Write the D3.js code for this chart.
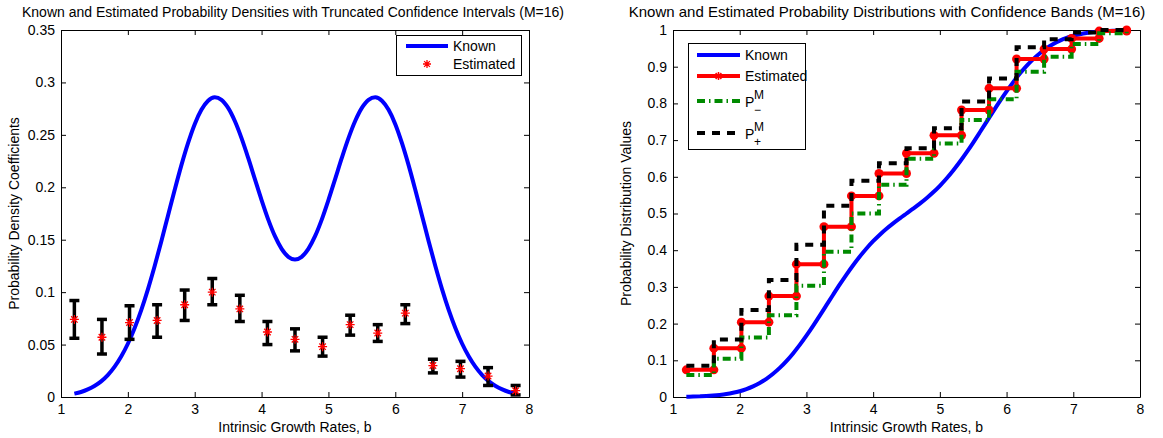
<!DOCTYPE html>
<html>
<head>
<meta charset="utf-8">
<script src="https://d3js.org/d3.v7.min.js"></script>
<style>
  body { margin: 0; background: #fff; }
  text { font-family: "Liberation Sans", Arial, sans-serif; }
</style>
</head>
<body>
<svg id="fig"></svg>
<script>
// known curves, every 0.1 from 1.2 to 7.8
const rates = [1.2, 1.3, 1.4, 1.5, 1.6, 1.7, 1.8, 1.9, 2.0, 2.1, 2.2, 2.3, 2.4, 2.5, 2.6, 2.7, 2.8, 2.9, 3.0, 3.1,
  3.2, 3.3, 3.4, 3.5, 3.6, 3.7, 3.8, 3.9, 4.0, 4.1, 4.2, 4.3, 4.4, 4.5, 4.6, 4.7, 4.8, 4.9, 5.0, 5.1,
  5.2, 5.3, 5.4, 5.5, 5.6, 5.7, 5.8, 5.9, 6.0, 6.1, 6.2, 6.3, 6.4, 6.5, 6.6, 6.7, 6.8, 6.9, 7.0, 7.1,
  7.2, 7.3, 7.4, 7.5, 7.6, 7.7, 7.8];
const knownDensity = [0.0032, 0.0048, 0.0072, 0.0105, 0.0149, 0.0209, 0.0287, 0.0386, 0.0508, 0.0656,
  0.0829, 0.1027, 0.1247, 0.1483, 0.1729, 0.1974, 0.2209, 0.2421, 0.2602, 0.2739, 0.2826, 0.2858,
  0.2834, 0.2757, 0.2632, 0.2469, 0.2280, 0.2078, 0.1878, 0.1692, 0.1534, 0.1413, 0.1337, 0.1312,
  0.1337, 0.1413, 0.1534, 0.1692, 0.1878, 0.2078, 0.2280, 0.2469, 0.2632, 0.2757, 0.2834, 0.2858,
  0.2826, 0.2739, 0.2602, 0.2421, 0.2209, 0.1974, 0.1729, 0.1483, 0.1247, 0.1027, 0.0829, 0.0656,
  0.0508, 0.0386, 0.0287, 0.0209, 0.0149, 0.0105, 0.0072, 0.0048, 0.0032];
const knownDistribution = [0.0007, 0.0011, 0.0017, 0.0025, 0.0038, 0.0056, 0.0080, 0.0114, 0.0158, 0.0216,
  0.0290, 0.0383, 0.0496, 0.0633, 0.0793, 0.0978, 0.1188, 0.1420, 0.1671, 0.1938, 0.2216, 0.2502,
  0.2787, 0.3067, 0.3336, 0.3591, 0.3828, 0.4047, 0.4245, 0.4423, 0.4584, 0.4731, 0.4868, 0.5000,
  0.5132, 0.5269, 0.5416, 0.5577, 0.5755, 0.5953, 0.6172, 0.6409, 0.6664, 0.6933, 0.7213, 0.7498,
  0.7784, 0.8062, 0.8329, 0.8580, 0.8812, 0.9022, 0.9207, 0.9367, 0.9504, 0.9617, 0.9710, 0.9784,
  0.9842, 0.9886, 0.9920, 0.9944, 0.9962, 0.9975, 0.9983, 0.9989, 0.9993];

// M=16 nodes
const nodes = [1.2, 1.6125, 2.025, 2.4375, 2.85, 3.2625, 3.675, 4.0875, 4.5, 4.9125, 5.325, 5.7375,
  6.15, 6.5625, 6.975, 7.3875, 7.8];
const estDensity = [0.074, 0.057, 0.071, 0.073, 0.088, 0.100, 0.084, 0.062, 0.055, 0.048, 0.069, 0.061,
  0.080, 0.030, 0.027, 0.020, 0.006];
const ciLower = [0.056, 0.041, 0.055, 0.057, 0.073, 0.088, 0.072, 0.050, 0.044, 0.039, 0.059, 0.053,
  0.070, 0.023, 0.019, 0.011, 0.002];
const ciUpper = [0.092, 0.074, 0.087, 0.088, 0.102, 0.113, 0.097, 0.072, 0.065, 0.057, 0.078, 0.069,
  0.088, 0.036, 0.034, 0.028, 0.011];
const estDistribution = [0.074, 0.133, 0.204, 0.275, 0.362, 0.464, 0.548, 0.609, 0.664, 0.713, 0.782,
  0.841, 0.921, 0.948, 0.977, 0.997, 1.0];
const bandLower = [0.060, 0.104, 0.162, 0.223, 0.303, 0.396, 0.500, 0.578, 0.649, 0.691, 0.755, 0.811,
  0.886, 0.927, 0.962, 0.991, 1.0];
const bandUpper = [0.085, 0.157, 0.237, 0.319, 0.415, 0.521, 0.589, 0.637, 0.678, 0.732, 0.805, 0.868,
  0.953, 0.975, 0.993, 1.0, 1.0];

const xTicks = [1, 2, 3, 4, 5, 6, 7, 8];
const densityTicks = [0, 0.05, 0.1, 0.15, 0.2, 0.25, 0.3, 0.35];
const densityTickLabels = ["0", "0.05", "0.1", "0.15", "0.2", "0.25", "0.3", "0.35"];
const distTicks = [0, 0.1, 0.2, 0.3, 0.4, 0.5, 0.6, 0.7, 0.8, 0.9, 1];
const distTickLabels = ["0", "0.1", "0.2", "0.3", "0.4", "0.5", "0.6", "0.7", "0.8", "0.9", "1"];

const FONT = "'Liberation Sans', Arial, sans-serif";
const svg = d3.select("#fig").attr("width", 1163).attr("height", 438);

const xLeft = d3.scaleLinear().domain([1, 8]).range([61, 529]);
const yLeft = d3.scaleLinear().domain([0, 0.35]).range([397, 30]);
const xRight = d3.scaleLinear().domain([1, 8]).range([673, 1140]);
const yRight = d3.scaleLinear().domain([0, 1]).range([397, 30]);

const drawFrame = (x, y, yTicks, yLabels, title, titleSize, titleX, yTitle) => {
  const g = svg.append("g");
  const [x0, x1] = x.range();
  const [y0, y1] = y.range();
  g.append("rect").attr("x", x0).attr("y", y1).attr("width", x1 - x0).attr("height", y0 - y1)
    .attr("fill", "white");

  const axes = [
    [d3.axisBottom(x).tickValues(xTicks).tickFormat(d3.format("d")).tickPadding(7), `translate(0,${y0})`],
    [d3.axisTop(x).tickValues(xTicks).tickFormat(""), `translate(0,${y1})`],
    [d3.axisLeft(y).tickValues(yTicks).tickFormat((d, i) => yLabels[i]).tickPadding(6), `translate(${x0},0)`],
    [d3.axisRight(y).tickValues(yTicks).tickFormat(""), `translate(${x1},0)`]
  ];
  axes.forEach(([axis, tr]) => {
    const a = g.append("g").attr("transform", tr)
      .call(axis.tickSize(-5).tickSizeOuter(0))
      .attr("font-size", 14).attr("font-family", FONT);
    a.selectAll("path, line").attr("stroke", "black");
    a.selectAll("text").attr("fill", "black");
  });

  g.append("text").attr("x", titleX).attr("y", 17).attr("text-anchor", "middle")
    .attr("font-size", titleSize).text(title);
  g.append("text").attr("x", (x0 + x1) / 2).attr("y", 432).attr("text-anchor", "middle")
    .attr("font-size", 14).text("Intrinsic Growth Rates, b");
  g.append("text").attr("transform", `translate(${x0 - 42},${(y0 + y1) / 2}) rotate(-90)`)
    .attr("text-anchor", "middle").attr("font-size", 14).text(yTitle);
  return g;
};

const starPath = (cx, cy, r) => {
  const d = r * 0.72;
  return `M${cx - r},${cy}L${cx + r},${cy}M${cx},${cy - r}L${cx},${cy + r}` +
    `M${cx - d},${cy - d}L${cx + d},${cy + d}M${cx - d},${cy + d}L${cx + d},${cy - d}`;
};

// ---------- left: densities ----------
const left = drawFrame(xLeft, yLeft, densityTicks, densityTickLabels,
  "Known and Estimated Probability Densities with Truncated Confidence Intervals (M=16)", 14, 293,
  "Probability Density Coefficients");

const densityLine = d3.line().x((d, i) => xLeft(rates[i])).y(d => yLeft(d)).curve(d3.curveMonotoneX);
left.append("path").attr("d", densityLine(knownDensity))
  .attr("fill", "none").attr("stroke", "#0000ff").attr("stroke-width", 4);

const bars = left.append("g").attr("stroke", "black").attr("stroke-width", 3.5);
nodes.forEach((b, i) => {
  const cx = xLeft(b);
  bars.append("line").attr("x1", cx).attr("x2", cx).attr("y1", yLeft(ciLower[i])).attr("y2", yLeft(ciUpper[i]));
  [ciLower[i], ciUpper[i]].forEach(v => {
    bars.append("line").attr("x1", cx - 5).attr("x2", cx + 5).attr("y1", yLeft(v)).attr("y2", yLeft(v));
  });
});
left.append("g").selectAll("path").data(estDensity).join("path")
  .attr("d", (d, i) => starPath(xLeft(nodes[i]), yLeft(d), 4.5))
  .attr("fill", "none").attr("stroke", "#ff0000").attr("stroke-width", 1.3);

// left legend
const legL = left.append("g");
legL.append("rect").attr("x", 396.5).attr("y", 35.5).attr("width", 125).attr("height", 40)
  .attr("fill", "white").attr("stroke", "black");
legL.append("line").attr("x1", 406).attr("x2", 448).attr("y1", 46).attr("y2", 46)
  .attr("stroke", "#0000ff").attr("stroke-width", 4);
legL.append("path").attr("d", starPath(427, 64, 4)).attr("stroke", "#ff0000").attr("stroke-width", 1.3);
legL.append("text").attr("x", 453).attr("y", 51).attr("font-size", 14).text("Known");
legL.append("text").attr("x", 453).attr("y", 69).attr("font-size", 14).text("Estimated");

// ---------- right: distributions ----------
const right = drawFrame(xRight, yRight, distTicks, distTickLabels,
  "Known and Estimated Probability Distributions with Confidence Bands (M=16)", 15, 887,
  "Probability Distribution Values");

const distLine = d3.line().x((d, i) => xRight(rates[i])).y(d => yRight(d)).curve(d3.curveMonotoneX);
right.append("path").attr("d", distLine(knownDistribution))
  .attr("fill", "none").attr("stroke", "#0000ff").attr("stroke-width", 4);

const stairs = d3.line().x((d, i) => xRight(nodes[i])).y(d => yRight(d)).curve(d3.curveStepAfter);

right.append("path").attr("d", stairs(estDistribution))
  .attr("fill", "none").attr("stroke", "#ff0000").attr("stroke-width", 4);
const corners = [];
estDistribution.forEach((v, i) => {
  corners.push([nodes[i], v]);
  if (i < nodes.length - 1) corners.push([nodes[i + 1], v]);
});
right.append("g").selectAll("circle").data(corners).join("circle")
  .attr("cx", d => xRight(d[0])).attr("cy", d => yRight(d[1])).attr("r", 4.5)
  .attr("fill", "#ff0000");

right.append("path").attr("d", stairs(bandLower))
  .attr("fill", "none").attr("stroke", "#008a00").attr("stroke-width", 4)
  .attr("stroke-dasharray", "8,4,1.5,4");
right.append("path").attr("d", stairs(bandUpper))
  .attr("fill", "none").attr("stroke", "black").attr("stroke-width", 4)
  .attr("stroke-dasharray", "8,7");

// right legend
const legR = right.append("g");
legR.append("rect").attr("x", 688.5).attr("y", 43.5).attr("width", 117).attr("height", 106)
  .attr("fill", "white").attr("stroke", "black");
const legRows = [
  { y: 55, color: "#0000ff", dash: null },
  { y: 76, color: "#ff0000", dash: null, marker: true },
  { y: 101, color: "#008a00", dash: "8,4,1.5,4" },
  { y: 133, color: "black", dash: "8,7" }
];
legRows.forEach(r => {
  const ln = legR.append("line").attr("x1", 697).attr("x2", 740).attr("y1", r.y).attr("y2", r.y)
    .attr("stroke", r.color).attr("stroke-width", 4);
  if (r.dash) ln.attr("stroke-dasharray", r.dash);
  if (r.marker) {
    legR.append("path").attr("d", starPath(718.5, r.y, 4)).attr("stroke", "#ff0000").attr("stroke-width", 1.5);
  }
});
legR.append("text").attr("x", 745).attr("y", 60).attr("font-size", 14).text("Known");
legR.append("text").attr("x", 745).attr("y", 81).attr("font-size", 14).text("Estimated");
[["\u2212", 101], ["+", 133]].forEach(([sub, y]) => {
  legR.append("text").attr("x", 745).attr("y", y + 6).attr("font-size", 14).text("P");
  legR.append("text").attr("x", 754).attr("y", y - 2).attr("font-size", 12).text("M");
  legR.append("text").attr("x", 754).attr("y", y + 13).attr("font-size", 12).text(sub);
});
</script>
</body>
</html>
